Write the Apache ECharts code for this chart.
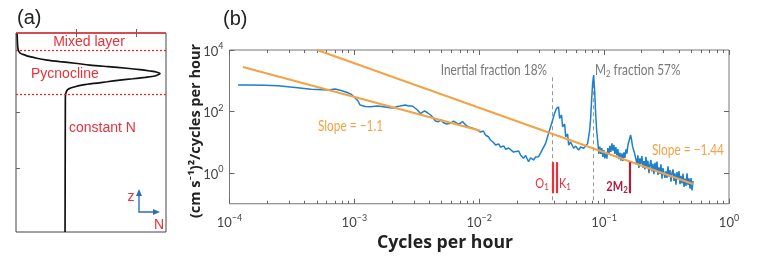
<!DOCTYPE html>
<html><head><meta charset="utf-8">
<script src="https://cdn.jsdelivr.net/npm/echarts@6/dist/echarts.min.js"></script>
<style>html,body{margin:0;padding:0;background:#fff}#c{width:763px;height:258px}</style>
</head><body><div id="c"></div>
<script>
// ---------- Panel (a): stratification profile ----------
const profileN     = [0.7, 0.9, 1.1, 1.5, 2.7, 6, 9.3, 13.8, 20.7, 29.3, 39.3, 49.3, 61.3, 73.8, 82.7, 89.3, 94, 96, 94.7, 92.7, 86, 78, 69.3, 60.7, 52, 44.7, 39.3, 36, 34.3, 33.5, 33, 32.9, 32.7];
const profileDepth = [0, 3.5, 6.5, 8.5, 10.1, 11.1, 11.9, 12.7, 13.6, 14.4, 15.2, 16.1, 16.9, 17.7, 18.4, 19.1, 19.7, 20.3, 21, 21.6, 22.3, 23, 23.7, 24.5, 25.3, 26.1, 27, 27.8, 28.6, 29.6, 31.2, 33.7, 100];
const layerDepths = [8.8, 30.9];
const layerNames = ['Mixed layer', 'Pycnocline', 'constant N'];
const aTicksX = [40, 80];
const aTicksY = [40, 68];

// ---------- Panel (b): spectrum ----------
const freq = [1.17e-4,1.46e-4,1.93e-4,2.45e-4,3.36e-4,4.51e-4,6.18e-4,6.99e-4,7.85e-4,8.77e-4,9.44e-4,1.02e-3,1.07e-3,1.11e-3,1.22e-3,1.34e-3,1.53e-3,1.71e-3,1.87e-3,2.05e-3,2.21e-3,2.33e-3,2.56e-3,2.71e-3,2.92e-3,3.20e-3,3.38e-3,3.64e-3,3.85e-3,4.07e-3,4.22e-3,4.46e-3,4.71e-3,4.98e-3,5.17e-3,5.47e-3,5.89e-3,6.22e-3,6.45e-3,6.82e-3,7.08e-3,7.35e-3,7.77e-3,8.21e-3,8.51e-3,8.99e-3,9.68e-3,1.02e-2,1.08e-2,1.12e-2,1.19e-2,1.23e-2,1.30e-2,1.35e-2,1.43e-2,1.48e-2,1.57e-2,1.63e-2,1.72e-2,1.78e-2,1.88e-2,1.95e-2,2.07e-2,2.14e-2,2.26e-2,2.35e-2,2.48e-2,2.58e-2,2.72e-2,2.82e-2,2.99e-2,3.10e-2,3.21e-2,3.40e-2,3.59e-2,3.72e-2,3.87e-2,4.01e-2,4.16e-2,4.24e-2,4.32e-2,4.40e-2,4.56e-2,4.65e-2,4.83e-2,4.92e-2,5.10e-2,5.20e-2,5.39e-2,5.70e-2,5.91e-2,6.25e-2,6.49e-2,6.86e-2,7.11e-2,7.38e-2,7.66e-2,7.80e-2,7.94e-2,8.09e-2,8.24e-2,8.39e-2,8.55e-2,8.71e-2,8.87e-2,
  0.0907,0.0924,0.0941,0.0959,0.0977,0.0995,0.1013,0.1032,0.1052,0.1071,0.1091,0.1112,0.1132,0.1154,0.1175,0.1197,0.1219,0.1242,0.1265,0.1289,0.1313,0.1337,0.1362,0.1388,0.1414,0.1440,0.1467,0.1494,0.1522,0.1551,0.1580,0.163,0.166,0.169,0.175,0.179,
  0.1830,0.1864,0.1899,0.1934,0.1970,0.2007,0.2045,0.2083,0.2122,0.2161,0.2202,0.2243,0.2285,0.2327,0.2371,0.2415,0.2460,0.2506,0.2553,0.2600,0.2649,0.2698,0.2749,0.2800,0.2852,0.2905,0.2960,0.3015,0.3071,0.3128,0.3187,0.3246,0.3307,0.3369,0.3431,0.3495,0.3561,0.3627,0.3695,0.3764,0.3834,0.3906,0.3979,0.4053,0.4129,0.4206,0.4284,0.4364,0.4446,0.4529,0.4613,0.4699,0.4787,0.4876,0.4967,0.5060,0.5155];
const psd  = [728,728,711,690,603,527,500,539,482,415,362,269,219,163,145,143,151,143,135,130,145,151,163,151,151,112,86,104,91,77,66,49,46.6,53,43,39,41.3,49,43,39,41.3,47.3,36.4,31.3,32,28,25,21.5,23.2,17.2,14.8,11.8,9.8,8.1,8.8,6.9,7.6,5.9,6.5,5.6,4.8,4.4,5.2,3.85,3.0,3.7,2.33,3.08,2.65,3.3,3.4,4.5,4.9,9.2,19.5,31,53,87,127,112,140,60,77,32,39,15.1,18.5,8.1,10.2,6.4,7.5,5.6,7.0,6.4,7.5,9.2,25,61,237,826,1540,500,89,25,11.8,
  4.15,7.28,4.15,6.50,3.31,5.60,2.96,4.82,2.94,6.45,3.94,7.67,4.82,9.25,5.31,8.26,4.18,7.01,3.71,6.03,2.81,4.64,2.51,4.34,2.45,4.68,3.10,5.90,4.27,8.15,9.2,17.2,11.8,7.2,4.5,3.0,
  1.96,3.73,1.47,3.01,2.00,3.55,1.50,2.45,1.31,3.34,1.53,2.51,0.99,1.88,2.65,1.13,1.98,0.91,2.16,1.24,2.35,0.86,1.52,0.94,1.92,0.65,1.44,1.61,0.69,1.13,0.69,1.65,0.76,1.24,0.52,1.0,1.31,0.55,0.98,0.42,1.07,0.66,1.16,0.43,0.81,0.46,0.95,0.35,0.66,0.38,0.97,0.41,0.67,0.31,0.68,0.27,0.55];
const fit1Freq = [1.28e-4, 1.02e-2], fit1Psd = [2800, 23.7];
const fit2Freq = [5.04e-4, 0.515],  fit2Psd = [10000, 0.44];
const fitLabels = ['Slope = \u22121.1', 'Slope = \u22121.44'];
const fractionFreq = [0.0386, 0.0824];
const fractionLabels = ['Inertial fraction 18%', 'M{s|2} fraction 57%'];
const fractionSpan = [1300, 0.11];
const tideFreq = [0.0387, 0.0418, 0.161];
const tideNames = ['O{s|1}', 'K{s|1}', '2M{s|2}'];
const tideSpan = [2.25, 0.22];
const xTickValues = [1e-4, 1e-3, 1e-2, 1e-1, 1];
const xTickExps = ['\u22124', '\u22123', '\u22122', '\u22121', '0'];
const yTickValues = [1, 100, 10000];
const yTickExps = ['0', '2', '4'];
const xMinorTicks = [];
for (let d = -4; d < 0; d++) for (let m = 2; m <= 9; m++) xMinorTicks.push(m * Math.pow(10, d));

const BLUE = '#1f7fcc', ORANGE = '#f4a244', RED = '#e8313a', DRED = '#b01e3c', TXT = '#444';
const FONT = 'Lato, "Open Sans", sans-serif';
const ARIAL = '"Liberation Sans", Arial, sans-serif';
const TITLE = '"Open Sans", Lato, sans-serif';
const NARROW_SCALE = 0.79;

const chart = echarts.init(document.getElementById('c'), null, {renderer: 'canvas'});

function supLabel(values, exps) {
  return v => {
    let i = values.findIndex(t => Math.abs(Math.log10(t) - Math.log10(v)) < 1e-6);
    return i < 0 ? '' : '{b|10}{s|' + exps[i] + '}';
  };
}
const richSup = {
  b: {fontSize: 13, fontFamily: FONT, color: TXT, verticalAlign: 'bottom', lineHeight: 16},
  s: {fontSize: 9, fontFamily: FONT, color: TXT, verticalAlign: 'top', lineHeight: 16, padding: [0, 0, 6, 0]}
};
const tickStyle = {color: '#666'};
function logX(gi, pos, opts) {
  return Object.assign({
    type: 'log', logBase: 10, gridIndex: gi, position: pos, min: 1e-4, max: 1,
    axisLine: {show: false}, splitLine: {show: false}, axisLabel: {show: false},
    axisTick: {show: true, inside: true, length: 5, lineStyle: tickStyle, customValues: xTickValues}
  }, opts || {});
}
function logY(gi, pos, opts) {
  return Object.assign({
    type: 'log', logBase: 10, gridIndex: gi, position: pos, min: 0.1, max: 10000,
    axisLine: {show: false}, splitLine: {show: false}, axisLabel: {show: false},
    axisTick: {show: true, inside: true, length: 5, lineStyle: tickStyle, customValues: [1, 100]}
  }, opts || {});
}
function valX(pos) {
  return {type: 'value', gridIndex: 0, position: pos, min: 0, max: 100, axisLine: {show: false}, splitLine: {show: false},
    axisLabel: {show: false}, axisTick: {show: true, inside: true, length: 4, lineStyle: tickStyle, customValues: aTicksX}};
}
function txt(x, y, text, font, fill, align, extra, sx) {
  return {type: 'text', x: x, y: y, scaleX: sx || 1,
    style: Object.assign({text: text, font: font, fill: fill, textAlign: align || 'left', textVerticalAlign: 'middle'}, extra || {})};
}
const subRich = (fill, bold) => ({rich: {s: {fontSize: 10, fontFamily: FONT, fontWeight: bold ? 'bold' : 'normal', fill: fill, padding: [7, 0, 0, 0]}}});

const option = {
  animation: false,
  grid: [
    {left: 16, top: 33, width: 150, height: 199, show: true, borderColor: '#444', borderWidth: 1},
    {left: 229.5, top: 50, width: 499.5, height: 153.75, show: true, borderColor: '#777', borderWidth: 1}
  ],
  xAxis: [
    valX('bottom'),
    logX(1, 'bottom', {axisLabel: {show: true, customValues: xTickValues, formatter: supLabel(xTickValues, xTickExps), rich: richSup, margin: 10}}),
    logX(1, 'bottom', {axisTick: {show: true, inside: true, length: 3, lineStyle: tickStyle, customValues: xMinorTicks}}),
    logX(1, 'top'),
    logX(1, 'top', {axisTick: {show: true, inside: true, length: 3, lineStyle: tickStyle, customValues: xMinorTicks}}),
    valX('top')
  ],
  yAxis: [
    {type: 'value', gridIndex: 0, min: 0, max: 100, inverse: true, axisLine: {show: false}, splitLine: {show: false},
     axisLabel: {show: false}, axisTick: {show: true, inside: true, length: 4, lineStyle: tickStyle, customValues: aTicksY}},
    logY(1, 'left', {axisTick: {show: true, inside: true, length: 5, lineStyle: tickStyle, customValues: yTickValues},
      axisLabel: {show: true, customValues: yTickValues, formatter: supLabel(yTickValues, yTickExps), rich: richSup, margin: 6}}),
    logY(1, 'right')
  ],
  series: [
    {type: 'line', xAxisIndex: 0, yAxisIndex: 0, showSymbol: false, smooth: 0.3,
     data: profileN.map((n, i) => [n, profileDepth[i]]),
     lineStyle: {color: '#111', width: 1.7}, z: 3},
    {type: 'line', name: 'layers', xAxisIndex: 0, yAxisIndex: 0, color: RED, data: [], z: 6,
     markLine: {silent: true, symbol: 'none', label: {show: false}, z: 6,
       lineStyle: {color: '#ff1a1a', width: 1.2, type: [2, 2], opacity: 1},
       data: [
         [{coord: [0, 0], lineStyle: {color: RED, width: 1.5, type: 'solid'}}, {coord: [100, 0]}],
         [{coord: [0, layerDepths[0]]}, {coord: [100, layerDepths[0]]}],
         [{coord: [0, layerDepths[1]]}, {coord: [100, layerDepths[1]]}]
       ]}},
    {type: 'line', xAxisIndex: 1, yAxisIndex: 1, showSymbol: false,
     data: freq.map((f, i) => [f, psd[i]]), lineStyle: {color: BLUE, width: 1.5}, z: 3,
     markLine: {silent: true, symbol: 'none', label: {show: false}, z: 2,
       data: [
         [{coord: [fractionFreq[0], fractionSpan[0]]}, {coord: [fractionFreq[0], fractionSpan[1]]}],
         [{coord: [fractionFreq[1], fractionSpan[0]]}, {coord: [fractionFreq[1], fractionSpan[1]]}]
       ], lineStyle: {color: '#999', width: 1, type: [4, 3]}}},
    {type: 'line', xAxisIndex: 1, yAxisIndex: 1, showSymbol: false, z: 4,
     data: fit1Freq.map((f, i) => [f, fit1Psd[i]]), lineStyle: {color: ORANGE, width: 2}},
    {type: 'line', xAxisIndex: 1, yAxisIndex: 1, showSymbol: false, z: 4,
     data: fit2Freq.map((f, i) => [f, fit2Psd[i]]), lineStyle: {color: ORANGE, width: 2},
     markLine: {silent: true, symbol: 'none', label: {show: false}, z: 5,
       data: tideFreq.map((f, i) => [
         {coord: [f, tideSpan[0]], lineStyle: {color: i < 2 ? RED : DRED, width: 2.2, type: 'solid'}},
         {coord: [f, tideSpan[1]]}])}}
  ],
  graphic: [
    txt(17, 18, '(a)', '20px ' + ARIAL, '#222'),
    txt(223, 19, '(b)', '20px ' + ARIAL, '#222'),
    txt(89, 42, layerNames[0], '14px ' + ARIAL, RED, 'center'),
    txt(31, 74, layerNames[1], '14px ' + ARIAL, RED),
    txt(69, 128, layerNames[2], '14px ' + ARIAL, RED),
    txt(131, 197, 'z', '14px ' + ARIAL, RED, 'center'),
    txt(159, 225, 'N', '14px ' + ARIAL, RED, 'center'),
    {type: 'polyline', shape: {points: [[139, 194], [139, 212], [155, 212]]}, style: {stroke: '#2d6fb8', lineWidth: 1.4, fill: null}},
    {type: 'polygon', shape: {points: [[136, 196], [142, 196], [139, 189]]}, style: {fill: '#2d6fb8'}},
    {type: 'polygon', shape: {points: [[153, 209], [153, 215], [160, 212]]}, style: {fill: '#2d6fb8'}},
    txt(547, 70, fractionLabels[0], '15px ' + FONT, '#777', 'right', null, NARROW_SCALE),
    txt(595, 70, fractionLabels[1], '15px ' + FONT, '#777', 'left', subRich('#777'), NARROW_SCALE),
    txt(318, 126, fitLabels[0], '15px ' + FONT, ORANGE, 'left', null, NARROW_SCALE),
    txt(652, 150, fitLabels[1], '15px ' + FONT, ORANGE, 'left', null, NARROW_SCALE),
    txt(542, 183, tideNames[0], '14px ' + FONT, RED, 'center', subRich(RED), NARROW_SCALE),
    txt(565, 183, tideNames[1], '14px ' + FONT, RED, 'center', subRich(RED), NARROW_SCALE),
    txt(617, 186, tideNames[2], 'bold 14px ' + FONT, DRED, 'center', subRich(DRED, true), NARROW_SCALE),
    txt(445, 243, 'Cycles per hour', 'bold 17px ' + TITLE, '#222', 'center', null, 1.04),
    Object.assign(txt(196, 131, '(cm s\u207B\u00B9)\u00B2/cycles per hour', 'bold 14.5px ' + TITLE, '#222', 'center'), {rotation: Math.PI / 2})
  ]
};
chart.setOption(option);
</script></body></html>
